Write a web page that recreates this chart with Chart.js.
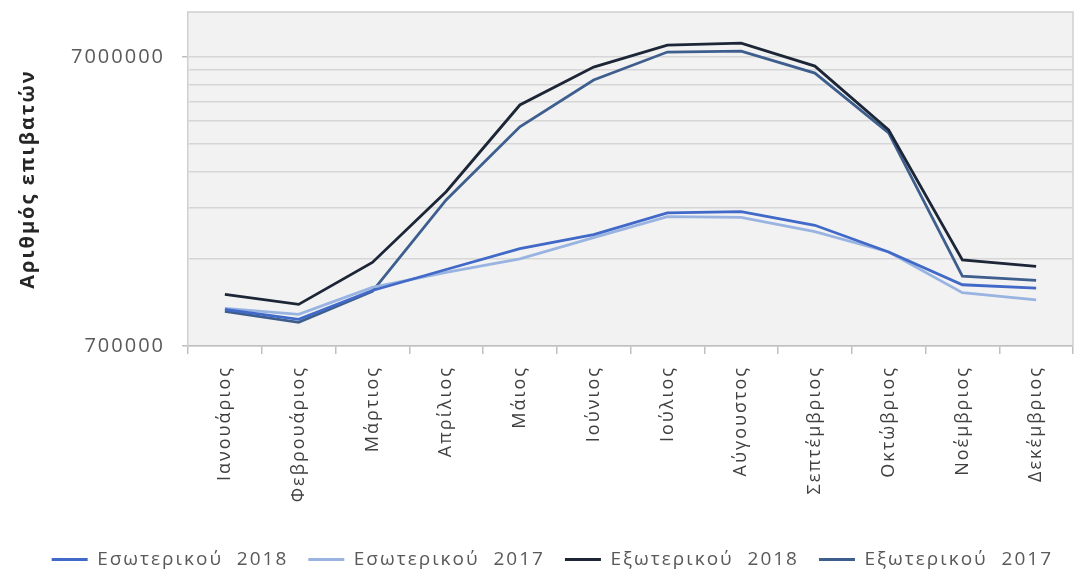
<!DOCTYPE html>
<html>
<head>
<meta charset="utf-8">
<script src="https://cdn.jsdelivr.net/npm/chart.js@4"></script>
<style>
  html, body { margin: 0; padding: 0; background: #fff; }
  #wrap { width: 1091px; height: 579px; }
</style>
</head>
<body>
<div id="wrap"><canvas id="passengerChart" width="1091" height="579"></canvas></div>
<script>
// months (Greek)
const months = ['Ιανουάριος', 'Φεβρουάριος', 'Μάρτιος', 'Απρίλιος', 'Μάιος', 'Ιούνιος',
  'Ιούλιος', 'Αύγουστος', 'Σεπτέμβριος', 'Οκτώβριος', 'Νοέμβριος', 'Δεκέμβριος'];

// passengers per month
const domestic2018 = [937000, 865000, 1089000, 1287000, 1520000, 1700000, 2020000, 2040000, 1830000, 1480000, 1140000, 1110000];
const domestic2017 = [944000, 900000, 1116000, 1257000, 1400000, 1660000, 1960000, 1950000, 1740000, 1480000, 1070000, 1010000];
const intl2018 = [1055000, 975000, 1361000, 2390000, 4770000, 6450000, 7680000, 7800000, 6500000, 3910000, 1390000, 1320000];
const intl2017 = [922000, 845000, 1081000, 2240000, 4010000, 5820000, 7270000, 7320000, 6150000, 3820000, 1220000, 1180000];

// y gridlines (multiples of 700000), labelled only at the decades
const yTicks = [700000, 1400000, 2100000, 2800000, 3500000, 4200000, 4900000, 5600000, 6300000, 7000000];
const yLabelled = [700000, 7000000];

const FONT = "'Open Sans', sans-serif";

// grey plot area + border on top/right, and a bit of letter spacing like the original
const plotFrame = {
  id: 'plotFrame',
  beforeLayout(chart) { chart.ctx.letterSpacing = '2px'; },
  beforeDraw(chart) {
    const { ctx, chartArea: a } = chart;
    ctx.letterSpacing = '2px';
    ctx.save();
    ctx.fillStyle = '#f2f2f2';
    ctx.fillRect(a.left, a.top, a.right - a.left, a.bottom - a.top);
    ctx.restore();
  },
  afterDraw(chart) {
    const { ctx, chartArea: a } = chart;
    ctx.save();
    ctx.strokeStyle = '#d0d0d0';
    ctx.lineWidth = 1.5;
    ctx.beginPath();
    ctx.moveTo(a.left, a.top);
    ctx.lineTo(a.right, a.top);
    ctx.lineTo(a.right, a.bottom);
    ctx.stroke();
    ctx.restore();
  }
};

function lineSet(label, data, color) {
  return {
    label: label,
    data: data,
    borderColor: color,
    backgroundColor: color,
    borderWidth: 2.8,
    pointRadius: 0,
    tension: 0,
    fill: false
  };
}

new Chart(document.getElementById('passengerChart'), {
  type: 'line',
  data: {
    labels: months,
    datasets: [
      lineSet('Εσωτερικού  2018', domestic2018, '#4169c8'),
      lineSet('Εσωτερικού  2017', domestic2017, '#9ab4e2'),
      lineSet('Εξωτερικού  2018', intl2018, '#1c2636'),
      lineSet('Εξωτερικού  2017', intl2017, '#3e5f8e')
    ]
  },
  options: {
    responsive: false,
    animation: false,
    layout: { padding: { top: 12, right: 18, left: 16, bottom: 0 } },
    plugins: {
      legend: {
        position: 'bottom',
        align: 'end',
        labels: {
          usePointStyle: true,
          pointStyle: 'line',
          pointStyleWidth: 36,
          padding: 20,
          color: '#595959',
          font: { family: FONT, size: 19 }
        }
      },
      tooltip: { enabled: false }
    },
    scales: {
      x: {
        type: 'category',
        offset: true,
        grid: {
          offset: true,
          drawOnChartArea: false,
          tickLength: 8,
          tickColor: '#bfbfbf',
          lineWidth: 1.5
        },
        border: { color: '#bfbfbf', width: 1.5 },
        ticks: {
          minRotation: 90,
          maxRotation: 90,
          padding: 12,
          color: '#404040',
          font: { family: FONT, size: 18 }
        },
        afterFit(scale) {
          scale.height = 184;
          scale.paddingLeft = 0;
          scale.paddingRight = 0;
        }
      },
      y: {
        type: 'logarithmic',
        min: 700000,
        max: 10000000,
        afterBuildTicks(scale) {
          scale.ticks = yTicks.map(v => ({ value: v }));
        },
        afterFit(scale) {
          scale.width = 172;
          scale.paddingTop = 0;
          scale.paddingBottom = 0;
        },
        grid: {
          color: '#d6d6d6',
          lineWidth: 1.5,
          tickLength: 6,
          tickColor: ctx => (ctx.tick && yLabelled.includes(ctx.tick.value)) ? '#bfbfbf' : 'rgba(0,0,0,0)'
        },
        border: { color: '#d0d0d0', width: 1.5 },
        ticks: {
          padding: 17,
          color: '#595959',
          font: { family: FONT, size: 20 },
          callback: v => yLabelled.includes(v) ? String(v) : ''
        },
        title: {
          display: true,
          text: 'Αριθμός επιβατών',
          color: '#262626',
          font: { family: FONT, size: 20, weight: 'bold' },
          padding: { top: 0, bottom: 4 }
        }
      }
    }
  },
  plugins: [plotFrame]
});
</script>
</body>
</html>
